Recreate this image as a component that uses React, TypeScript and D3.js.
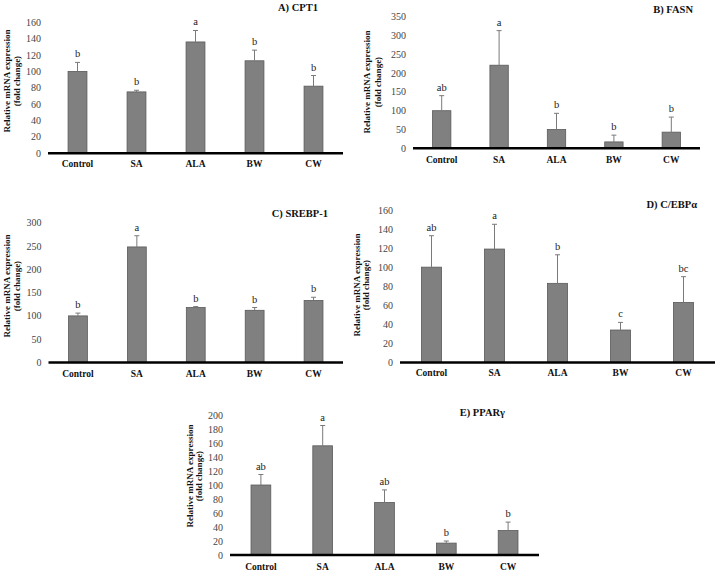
import * as d3 from "d3";

// groups on the x axis
const categories = ["Control", "SA", "ALA", "BW", "CW"];

// A) CPT1
const cpt1Values = [100, 75, 136, 113, 82];
const cpt1Errors = [11, 2, 14, 13, 13];
const cpt1Letters = ["b", "b", "a", "b", "b"];

// B) FASN
const fasnValues = [100, 221, 50, 17, 43];
const fasnErrors = [40, 92, 43, 18, 40];
const fasnLetters = ["ab", "a", "b", "b", "b"];

// C) SREBP-1
const srebpValues = [100, 248, 118, 112, 133];
const srebpErrors = [6, 24, 2, 6, 7];
const srebpLetters = ["b", "a", "b", "b", "b"];

// D) C/EBPα
const cebpValues = [100, 119, 83, 34, 63];
const cebpErrors = [33, 26, 30, 8, 27];
const cebpLetters = ["ab", "a", "b", "c", "bc"];

// E) PPARγ
const pparValues = [100, 156, 75, 17, 35];
const pparErrors = [15, 29, 18, 3, 12];
const pparLetters = ["ab", "a", "ab", "b", "b"];

const titles = ["A) CPT1", "B) FASN", "C) SREBP-1", "D) C/EBPα", "E) PPARγ"];
const yMax = [160, 350, 300, 160, 200];
const yStep = [20, 50, 50, 20, 20];

// where each panel sits on the page
const layout = [
  { x0: 48, x1: 343, y0: 153.3, yTop: 22.3, lab1: 7, lab2: 17, labY: 81, titleX: 318, titleY: 10.5, catY: 167 },
  { x0: 413, x1: 700, y0: 148.3, yTop: 16.7, lab1: 367, lab2: 378, labY: 82, titleX: 693, titleY: 12.5, catY: 163 },
  { x0: 48.5, x1: 343, y0: 362.5, yTop: 222.7, lab1: 7, lab2: 17, labY: 286, titleX: 328, titleY: 216.5, catY: 377 },
  { x0: 400, x1: 715, y0: 362.4, yTop: 210, lab1: 357, lab2: 366, labY: 285, titleX: 697, titleY: 208, catY: 376 },
  { x0: 230, x1: 539, y0: 555, yTop: 415, lab1: 190, lab2: 198.5, labY: 476, titleX: 505, titleY: 416, catY: 570 },
];

const series = [
  { values: cpt1Values, errors: cpt1Errors, letters: cpt1Letters },
  { values: fasnValues, errors: fasnErrors, letters: fasnLetters },
  { values: srebpValues, errors: srebpErrors, letters: srebpLetters },
  { values: cebpValues, errors: cebpErrors, letters: cebpLetters },
  { values: pparValues, errors: pparErrors, letters: pparLetters },
];

const font = "'Liberation Serif', 'Times New Roman', serif";

function Panel({ i }: { i: number }) {
  const L = layout[i];
  const s = series[i];
  const x = d3.scaleBand<string>().domain(categories).range([L.x0, L.x1]).padding(0);
  const y = d3.scaleLinear().domain([0, yMax[i]]).range([L.y0, L.yTop]);
  const ticks = d3.range(0, yMax[i] + 1, yStep[i]);
  const barW = x.bandwidth() * 0.32;

  return (
    <g>
      {ticks.map((t) => (
        <text key={t} x={L.x0 - 7} y={y(t)} dy="0.35em" textAnchor="end" fontSize={10} fill="#444">
          {t}
        </text>
      ))}
      {categories.map((c, k) => {
        const cx = (x(c) as number) + x.bandwidth() / 2;
        const top = y(s.values[k]);
        const errTop = y(s.values[k] + s.errors[k]);
        return (
          <g key={c}>
            <rect x={cx - barW / 2} y={top} width={barW} height={L.y0 - top} fill="#808080" stroke="#5a5a5a" strokeWidth={0.8} />
            <line x1={cx} x2={cx} y1={top} y2={errTop} stroke="#7a7a7a" strokeWidth={1} />
            <line x1={cx - 2.5} x2={cx + 2.5} y1={errTop} y2={errTop} stroke="#7a7a7a" strokeWidth={1} />
            <text x={cx} y={errTop - 5} textAnchor="middle" fontSize={10.5} fill="#222">
              {s.letters[k]}
            </text>
            <text x={cx} y={L.catY} textAnchor="middle" fontSize={9.5} fontWeight="bold" fill="#111">
              {c}
            </text>
          </g>
        );
      })}
      <line x1={L.x0} x2={L.x1} y1={L.y0} y2={L.y0} stroke="#000" strokeWidth={2.5} />
      <text x={L.titleX} y={L.titleY} textAnchor="end" fontSize={10.5} fontWeight="bold" fill="#111">
        {titles[i]}
      </text>
      <g fontSize={9} fontWeight="bold" fill="#111" textAnchor="middle">
        <text transform={`translate(${L.lab1},${L.labY}) rotate(-90)`} dy="0.35em">
          Relative mRNA expression
        </text>
        <text transform={`translate(${L.lab2},${L.labY}) rotate(-90)`} dy="0.35em">
          (fold change)
        </text>
      </g>
    </g>
  );
}

export default function App() {
  return (
    <svg
      width={716}
      height={572}
      style={{ position: "absolute", left: 0, top: 0, background: "#fff", fontFamily: font }}
    >
      {layout.map((_, i) => (
        <Panel key={i} i={i} />
      ))}
    </svg>
  );
}
